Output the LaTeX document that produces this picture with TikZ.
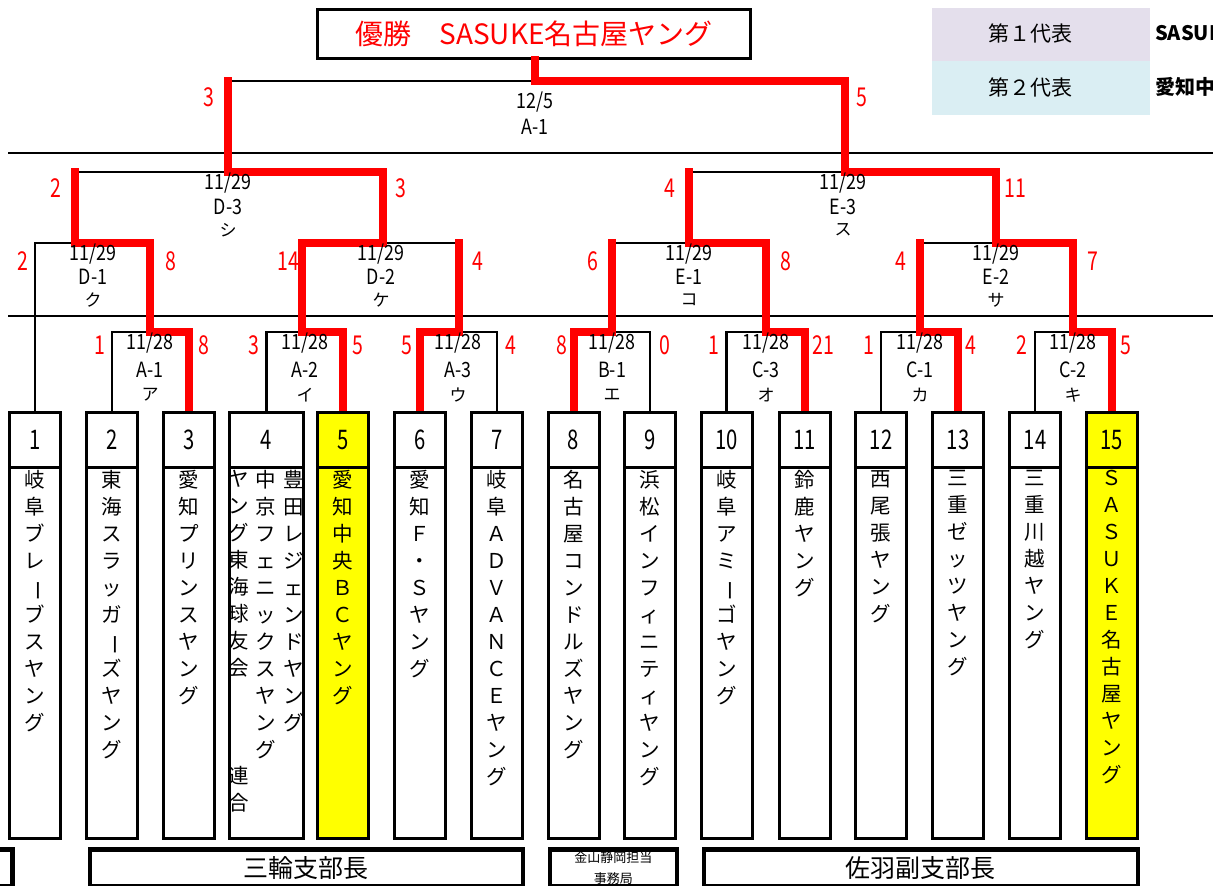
\documentclass[tikz,border=0pt]{standalone}
\usepackage{fontspec}
\setmainfont{Noto Sans CJK JP}
\newfontfamily\cnd[FakeStretch=0.75]{Noto Sans CJK JP}
\newfontfamily\cndl[FakeStretch=0.85]{Noto Sans CJK JP}
\definecolor{lav}{HTML}{E4DFEC}
\definecolor{lblue}{HTML}{DAEEF3}
\definecolor{hl}{HTML}{FFFF00}
\makeatletter
\newcommand\vtext[1]{\vbox{\baselineskip=27pt\lineskiplimit=-50pt\lineskip=0pt\@tfor\vch:=#1\do{\hbox to 22pt{\hss\vch\hss}}}}
\makeatother
\newcommand\chon{\rotatebox[origin=c]{-90}{ー}}
\tikzset{
 bline/.style={line width=2.6pt, line join=miter},
 rline/.style={line width=8pt, draw=red, line cap=rect, line join=miter},
 sepline/.style={line width=1.3pt},
 numcell/.style={draw, line width=3pt, fill=white, minimum width=51pt, minimum height=55pt, anchor=north, inner sep=0pt, font=\cnd\fontsize{27}{27}\selectfont},
 namecell/.style={draw, line width=3pt, fill=white, minimum width=51pt, minimum height=371pt, anchor=north, inner sep=0pt},
 vname/.style={anchor=north, inner sep=0pt, font=\fontsize{20.5}{20.5}\selectfont},
 score/.style={text=red, font=\cnd\fontsize{26}{26}\selectfont, inner sep=0pt},
 mlabel/.style={font=\cndl\fontsize{21}{21}\selectfont, inner sep=0pt},
 kana/.style={font=\fontsize{17}{17}\selectfont, inner sep=0pt},
 officebox/.style={draw, line width=4.5pt, fill=white, inner sep=0pt, minimum height=37pt, anchor=north west},
}
\begin{document}
\begin{tikzpicture}[x=1pt,y=-1pt]
\useasboundingbox (0,0) rectangle (1213,886);
\clip (0,0) rectangle (1213,886);
\fill[white] (0,0) rectangle (1213,886);

% separators
\draw[sepline] (8,153) -- (1213,153);
\draw[sepline] (8,316) -- (1213,316);

% legend
\fill[lav] (932,8) rectangle (1150,61);
\fill[lblue] (932,61) rectangle (1150,115);
\node[font=\fontsize{21}{21}\selectfont, inner sep=0pt] (lg1) at (1030,33) {第１代表};
\node[font=\fontsize{21}{21}\selectfont, inner sep=0pt] (lg2) at (1030,87) {第２代表};
\node[font=\bfseries\fontsize{20}{20}\selectfont, anchor=west, inner sep=0pt] (lg1t) at (1155,33) {SASUKE名古屋ヤング};
\node[font=\bfseries\fontsize{20}{20}\selectfont, anchor=west, inner sep=0pt] (lg2t) at (1155,87) {愛知中央ＢＣヤング};

% match coordinates
\coordinate (A1) at (150,332);
\coordinate (A2) at (302,332);
\coordinate (A3) at (459,332);
\coordinate (B1) at (612,332);
\coordinate (C3) at (766,332);
\coordinate (C1) at (920,332);
\coordinate (C2) at (1073,332);
\coordinate (D1) at (75,243);
\coordinate (D2) at (383,243);
\coordinate (E1) at (689,243);
\coordinate (E2) at (996,243);
\coordinate (D3) at (228,172);
\coordinate (E3) at (845,172);
\coordinate (F) at (535,81);

% team box positions (top centres)
\coordinate (p1) at (35,411);
\coordinate (p2) at (112,411);
\coordinate (p3) at (189,411);
\coordinate (p4) at (266.5,411);
\coordinate (p5) at (343,411);
\coordinate (p6) at (420,411);
\coordinate (p7) at (497,411);
\coordinate (p8) at (573.5,411);
\coordinate (p9) at (650,411);
\coordinate (p10) at (726.5,411);
\coordinate (p11) at (804.5,411);
\coordinate (p12) at (881,411);
\coordinate (p13) at (958,411);
\coordinate (p14) at (1035,411);
\coordinate (p15) at (1111.5,411);

% black brackets
\draw[bline] (p2) |- (A1) -| (p3);
\draw[bline] (p4) |- (A2) -| (p5);
\draw[bline] (p6) |- (A3) -| (p7);
\draw[bline] (p8) |- (B1) -| (p9);
\draw[bline] (p10) |- (C3) -| (p11);
\draw[bline] (p12) |- (C1) -| (p13);
\draw[bline] (p14) |- (C2) -| (p15);
\draw[bline] (p1) |- (D1) -| (A1);
\draw[bline] (A2) |- (D2) -| (A3);
\draw[bline] (B1) |- (E1) -| (C3);
\draw[bline] (C1) |- (E2) -| (C2);
\draw[bline] (D1) |- (D3) -| (D2);
\draw[bline] (E1) |- (E3) -| (E2);
\draw[bline] (D3) |- (F) -| (E3);

% title box
\node[draw, line width=3pt, fill=white, minimum width=433pt, minimum height=49pt, inner sep=0pt, text=red, font=\fontsize{28}{28}\selectfont] (title) at (534,34) {優勝　SASUKE名古屋ヤング};

% red winner paths
\draw[rline] (p3) |- (A1) |- (D1) -- (D1 |- D3);
\draw[rline] (p5) |- (A2) |- (D2) |- (D3) -- (D3 |- F);
\draw[rline] (p6) |- (A3) -- (A3 |- D2);
\draw[rline] (p8) |- (B1) -- (B1 |- E1);
\draw[rline] (p11) |- (C3) |- (E1) -- (E1 |- E3);
\draw[rline] (p13) |- (C1) -- (C1 |- E2);
\draw[rline] (p15) |- (C2) |- (E2) |- (E3) |- (F) -- (F |- title.south);

% team boxes
\foreach \i/\fc in {1/white,2/white,3/white,5/hl,6/white,7/white,8/white,9/white,10/white,11/white,12/white,13/white,14/white,15/hl}{
  \node[namecell, fill=\fc] (m\i) at ([yshift=-55pt]p\i) {};
  \node[numcell, fill=\fc] (n\i) at (p\i) {\i};
}
\node[namecell, minimum width=74pt] (m4) at ([yshift=-55pt]p4) {};
\node[numcell, minimum width=74pt] (n4) at (p4) {4};

% team names
\node[vname] (v1) at (35,470) {\vtext{岐阜ブレ\chon ブスヤング}};
\node[vname] (v2) at (112,470) {\vtext{東海スラッガ\chon ズヤング}};
\node[vname] (v3) at (189,470) {\vtext{愛知プリンスヤング}};
\node[vname] (v4a) at (294,470) {\vtext{豊田レジェンドヤング}};
\node[vname] (v4b) at (266,470) {\vtext{中京フェニックスヤング}};
\node[vname] (v4c) at (239,470) {\vtext{ヤング東海球友会{}{}{}連合}};
\node[vname] (v5) at (343,470) {\vtext{愛知中央ＢＣヤング}};
\node[vname] (v6) at (420,470) {\vtext{愛知Ｆ・Ｓヤング}};
\node[vname] (v7) at (497,470) {\vtext{岐阜ＡＤＶＡＮＣＥヤング}};
\node[vname] (v8) at (573.5,470) {\vtext{名古屋コンドルズヤング}};
\node[vname] (v9) at (650,470) {\vtext{浜松インフィニティヤング}};
\node[vname] (v10) at (726.5,470) {\vtext{岐阜アミ\chon ゴヤング}};
\node[vname] (v11) at (804.5,470) {\vtext{鈴鹿ヤング}};
\node[vname] (v12) at (881,470) {\vtext{西尾張ヤング}};
\node[vname] (v13) at (958,470) {\vtext{三重ゼッツヤング}};
\node[vname] (v14) at (1035,470) {\vtext{三重川越ヤング}};
\node[vname] (v15) at (1111.5,470) {\vtext{ＳＡＳＵＫＥ名古屋ヤング}};

% match labels, round 1
\foreach \x/\c/\k in {150/A-1/ア,305/A-2/イ,458/A-3/ウ,612/B-1/エ,766/C-3/オ,920/C-1/カ,1073/C-2/キ}{
  \node[mlabel] (d\c) at (\x,343) {11/28};
  \node[mlabel] (c\c) at (\x,370) {\c};
  \node[kana] (k\c) at (\x,395) {\k};
}
% round 2
\foreach \x/\c/\k in {93/D-1/ク,381/D-2/ケ,689/E-1/コ,996/E-2/サ}{
  \node[mlabel] (d\c) at (\x,254) {11/29};
  \node[mlabel] (c\c) at (\x,277) {\c};
  \node[kana] (k\c) at (\x,300) {\k};
}
% round 3
\foreach \x/\c/\k in {228/D-3/シ,843/E-3/ス}{
  \node[mlabel] (d\c) at (\x,183) {11/29};
  \node[mlabel] (c\c) at (\x,207) {\c};
  \node[kana] (k\c) at (\x,230) {\k};
}
% final
\node[mlabel] (dF) at (535,102) {12/5};
\node[mlabel] (cF) at (535,127) {A-1};

% scores
\foreach \x/\y/\s [count=\n] in {
  100/345/1, 204/345/8, 254/345/3, 358/345/5, 407/345/5, 511/345/4,
  562/345/8, 665/345/0, 714/345/1, 823/345/21, 869/345/1, 971/345/4,
  1022/345/2, 1126/345/5,
  23/261/2, 171/261/8, 288/261/14, 478/261/4, 593/261/6, 786/261/8,
  901/261/4, 1093/261/7,
  56/188/2, 401/188/3, 670/188/4, 1015/188/11,
  209/97/3, 862/97/5}{
  \node[score] (s\n) at (\x,\y) {\s};
}

% office boxes
\node[officebox, minimum width=80pt] (ob0) at (-70,847) {};
\node[officebox, minimum width=433pt, font=\fontsize{25}{25}\selectfont] (ob1) at (87.5,847) {三輪支部長};
\node[officebox, minimum width=127pt, align=center, font=\fontsize{13}{21}\selectfont] (ob2) at (547.5,847) {金山静岡担当\\事務局};
\node[officebox, minimum width=434pt, font=\fontsize{25}{25}\selectfont] (ob3) at (701.5,847) {佐羽副支部長};
\end{tikzpicture}
\end{document}
